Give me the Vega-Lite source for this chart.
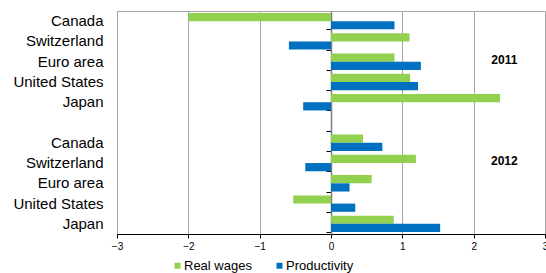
{
  "$schema": "https://vega.github.io/schema/vega-lite/v6.json",
  "width": 428,
  "height": 223,
  "autosize": {"type": "none"},
  "padding": {"left": 117, "top": 11, "right": 1, "bottom": 39},
  "background": "white",
  "config": {
    "font": "Arial, 'Liberation Sans', sans-serif",
    "axis": {"labelFont": "Arial, 'Liberation Sans', sans-serif"},
    "legend": {"labelFont": "Arial, 'Liberation Sans', sans-serif"},
    "text": {"font": "Arial, 'Liberation Sans', sans-serif"},
    "view": {"stroke": "#A6A6A6", "strokeWidth": 1}
  },
  "layer": [
    {
      "data": {
        "values": [
          {"row": "Canada|2011", "series": "Real wages", "value": -2.0},
          {"row": "Canada|2011", "series": "Productivity", "value": 0.89},
          {"row": "Switzerland|2011", "series": "Real wages", "value": 1.10},
          {"row": "Switzerland|2011", "series": "Productivity", "value": -0.59},
          {"row": "Euro area|2011", "series": "Real wages", "value": 0.89},
          {"row": "Euro area|2011", "series": "Productivity", "value": 1.26},
          {"row": "United States|2011", "series": "Real wages", "value": 1.11},
          {"row": "United States|2011", "series": "Productivity", "value": 1.22},
          {"row": "Japan|2011", "series": "Real wages", "value": 2.37},
          {"row": "Japan|2011", "series": "Productivity", "value": -0.39},
          {"row": "Canada|2012", "series": "Real wages", "value": 0.45},
          {"row": "Canada|2012", "series": "Productivity", "value": 0.72},
          {"row": "Switzerland|2012", "series": "Real wages", "value": 1.19},
          {"row": "Switzerland|2012", "series": "Productivity", "value": -0.36},
          {"row": "Euro area|2012", "series": "Real wages", "value": 0.57},
          {"row": "Euro area|2012", "series": "Productivity", "value": 0.26},
          {"row": "United States|2012", "series": "Real wages", "value": -0.53},
          {"row": "United States|2012", "series": "Productivity", "value": 0.34},
          {"row": "Japan|2012", "series": "Real wages", "value": 0.88},
          {"row": "Japan|2012", "series": "Productivity", "value": 1.53}
        ]
      },
      "mark": {"type": "bar"},
      "encoding": {
        "y": {
          "field": "row",
          "type": "nominal",
          "scale": {
            "type": "band",
            "domain": ["Canada|2011", "Switzerland|2011", "Euro area|2011", "United States|2011", "Japan|2011", "gap", "Canada|2012", "Switzerland|2012", "Euro area|2012", "United States|2012", "Japan|2012"],
            "paddingInner": 0.19,
            "paddingOuter": 0.095
          },
          "axis": {
            "title": null,
            "orient": "left",
            "ticks": false,
            "domain": false,
            "grid": false,
            "labelPadding": 14,
            "labelFontSize": 15,
            "labelColor": "black",
            "labelExpr": "indexof(datum.value, '|') > 0 ? split(datum.value, '|')[0] : ''"
          }
        },
        "yOffset": {
          "field": "series",
          "type": "nominal",
          "scale": {"domain": ["Real wages", "Productivity"], "paddingInner": 0, "paddingOuter": 0}
        },
        "x": {
          "field": "value",
          "type": "quantitative",
          "scale": {"domain": [-3, 3], "nice": false, "zero": false},
          "axis": {
            "title": null,
            "values": [-3, -2, -1, 0, 1, 2, 3],
            "format": "d",
            "grid": true,
            "gridColor": "#A6A6A6",
            "gridWidth": 1,
            "domainColor": "black",
            "domainWidth": 1,
            "tickColor": "black",
            "tickSize": 4,
            "labelFontSize": 10,
            "labelColor": "black",
            "labelPadding": 3,
            "labelFlush": false
          }
        },
        "color": {
          "field": "series",
          "type": "nominal",
          "scale": {"domain": ["Real wages", "Productivity"], "range": ["#92D050", "#0070C0"]},
          "legend": {
            "title": null,
            "orient": "none",
            "direction": "horizontal",
            "legendX": 54,
            "legendY": 248,
            "symbolType": "square",
            "symbolSize": 36,
            "symbolStrokeWidth": 0,
            "labelFontSize": 13,
            "labelColor": "black",
            "labelOffset": 0,
            "columnPadding": 21
          }
        }
      }
    },
    {
      "data": {
        "values": [
          {"row": "Euro area|2011", "label": "2011", "pos": 2.43},
          {"row": "Switzerland|2012", "label": "2012", "pos": 2.43}
        ]
      },
      "mark": {"type": "text", "fontWeight": "bold", "fontSize": 12, "dy": -2, "color": "black"},
      "encoding": {
        "y": {
          "field": "row",
          "type": "nominal",
          "axis": {
            "title": null,
            "orient": "left",
            "offset": -214,
            "labels": false,
            "grid": false,
            "domain": true,
            "domainColor": "#7F7F7F",
            "domainWidth": 1.5,
            "ticks": true,
            "tickBand": "extent",
            "tickColor": "black",
            "tickSize": 5
          }
        },
        "x": {"field": "pos", "type": "quantitative"},
        "text": {"field": "label"}
      }
    }
  ],
  "resolve": {"axis": {"y": "independent"}}
}
